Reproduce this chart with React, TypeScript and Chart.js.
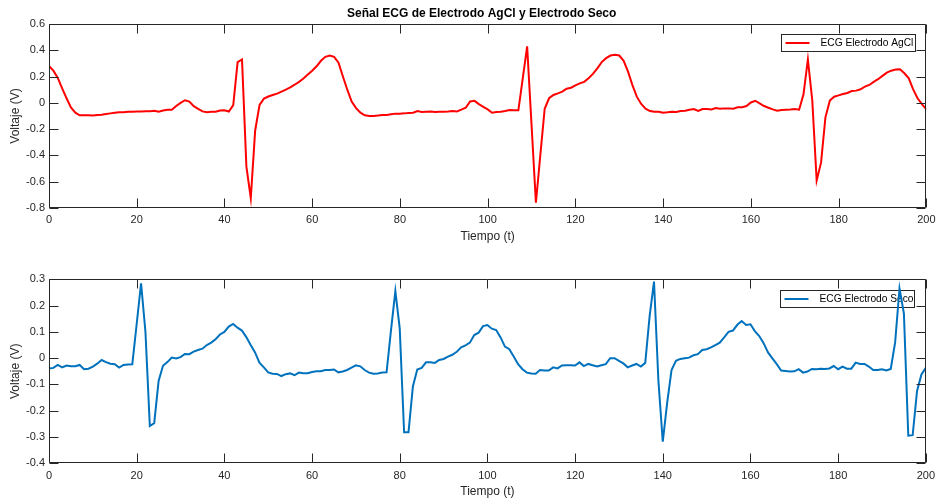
import React, { useEffect, useRef } from "react";
import { Chart, registerables } from "chart.js";

Chart.register(...registerables);

const FONT = "'Liberation Sans', Arial, Helvetica, sans-serif";
const TITLE = "Señal ECG de Electrodo AgCl y Electrodo Seco";
const X_TITLE = "Tiempo (t)";
const Y_TITLE = "Voltaje (V)";
const LABEL_AGCL = "ECG Electrodo AgCl";
const LABEL_SECO = "ECG Electrodo Seco";

const xTicks = [0, 20, 40, 60, 80, 100, 120, 140, 160, 180, 200];
const xTickLabels = ["0", "20", "40", "60", "80", "100", "120", "140", "160", "180", "200"];
const yTicksAgcl = [-0.8, -0.6, -0.4, -0.2, 0, 0.2, 0.4, 0.6];
const yTickLabelsAgcl = ["-0.8", "-0.6", "-0.4", "-0.2", "0", "0.2", "0.4", "0.6"];
const yTicksSeco = [-0.4, -0.3, -0.2, -0.1, 0, 0.1, 0.2, 0.3];
const yTickLabelsSeco = ["-0.4", "-0.3", "-0.2", "-0.1", "0", "0.1", "0.2", "0.3"];

// AgCl electrode, samples t = 0..200
const agclValues = [
  0.28, 0.245, 0.19, 0.11, 0.035, -0.035, -0.075, -0.095, -0.095, -0.095,
  -0.097, -0.093, -0.09, -0.085, -0.08, -0.075, -0.072, -0.072, -0.068, -0.068,
  -0.065, -0.065, -0.063, -0.063, -0.06, -0.068, -0.058, -0.052, -0.052, -0.024,
  0.0, 0.02, 0.01, -0.025, -0.045, -0.065, -0.072, -0.068, -0.068, -0.058,
  -0.056, -0.066, -0.017, 0.31, 0.33, -0.485, -0.725, -0.21, -0.015, 0.032,
  0.048, 0.06, 0.07, 0.085, 0.1, 0.118, 0.138, 0.16, 0.185, 0.215,
  0.245, 0.278, 0.32, 0.35, 0.36, 0.35, 0.305, 0.2, 0.1, 0.01,
  -0.04, -0.075, -0.095, -0.1, -0.1, -0.097, -0.093, -0.093, -0.087, -0.082,
  -0.082, -0.08, -0.077, -0.075, -0.062, -0.07, -0.067, -0.065, -0.07, -0.067,
  -0.067, -0.065, -0.062, -0.065, -0.052, -0.037, 0.01, 0.015, -0.01, -0.03,
  -0.05, -0.075, -0.07, -0.067, -0.062, -0.055, -0.057, -0.057, 0.187, 0.43,
  -0.165, -0.76, -0.4, -0.045, 0.035, 0.06, 0.072, 0.085, 0.108, 0.115,
  0.133, 0.148, 0.16, 0.187, 0.22, 0.263, 0.31, 0.34, 0.36, 0.365,
  0.36, 0.32, 0.237, 0.135, 0.047, -0.008, -0.044, -0.062, -0.067, -0.067,
  -0.075, -0.072, -0.067, -0.07, -0.062, -0.06, -0.052, -0.047, -0.062, -0.047,
  -0.047, -0.05, -0.04, -0.045, -0.042, -0.042, -0.045, -0.034, -0.034, -0.024,
  0.003, 0.016, -0.004, -0.024, -0.037, -0.05, -0.06, -0.055, -0.052, -0.05,
  -0.047, -0.052, 0.065, 0.33, 0.02, -0.59, -0.455, -0.11, 0.017, 0.047,
  0.057, 0.067, 0.075, 0.09, 0.093, 0.103, 0.123, 0.136, 0.16, 0.18,
  0.205, 0.23, 0.245, 0.253, 0.255, 0.225, 0.187, 0.103, 0.035, -0.01,
  -0.05,
];

// Dry electrode, samples t = 0..200
const secoValues = [
  -0.039, -0.037, -0.026, -0.035, -0.028, -0.031, -0.031, -0.026, -0.042, -0.04,
  -0.032, -0.021, -0.007, -0.015, -0.021, -0.023, -0.036, -0.026, -0.024, -0.023,
  0.13, 0.285, 0.1, -0.258, -0.247, -0.087, -0.029, -0.015, 0.002, -0.001,
  0.004, 0.016, 0.015, 0.025, 0.031, 0.036, 0.05, 0.059, 0.072, 0.09,
  0.1, 0.12, 0.13, 0.116, 0.105, 0.08, 0.05, 0.022, -0.017, -0.035,
  -0.054, -0.059, -0.06, -0.068, -0.061, -0.058, -0.065, -0.055, -0.057, -0.057,
  -0.053, -0.05, -0.05, -0.045, -0.045, -0.043, -0.054, -0.051, -0.045, -0.036,
  -0.027, -0.031, -0.045, -0.055, -0.059, -0.058, -0.055, -0.054, 0.105, 0.255,
  0.113, -0.282, -0.282, -0.108, -0.043, -0.037, -0.016, -0.016, -0.018, -0.007,
  -0.003, 0.006, 0.013, 0.024, 0.041, 0.049, 0.059, 0.088, 0.097, 0.122,
  0.126, 0.112, 0.107, 0.079, 0.044, 0.034, 0.006, -0.023, -0.042, -0.055,
  -0.058, -0.059, -0.045, -0.047, -0.047, -0.035, -0.039, -0.028, -0.027, -0.027,
  -0.028, -0.016, -0.03, -0.022, -0.027, -0.032, -0.027, -0.023, 0.0, 0.0,
  -0.01, -0.02, -0.035, -0.028, -0.022, -0.032, -0.018, 0.16, 0.291, -0.085,
  -0.318, -0.17, -0.045, -0.01, -0.003, 0.0, 0.002, 0.011, 0.015, 0.031,
  0.034, 0.041, 0.05, 0.059, 0.079, 0.1, 0.105, 0.127, 0.141, 0.126,
  0.129, 0.103, 0.084, 0.057, 0.022, -0.001, -0.023, -0.047, -0.049, -0.051,
  -0.05, -0.042, -0.055, -0.051, -0.041, -0.042, -0.04, -0.041, -0.039, -0.03,
  -0.042, -0.032, -0.04, -0.04, -0.017, -0.022, -0.022, -0.032, -0.045, -0.045,
  -0.042, -0.047, -0.041, 0.06, 0.265, 0.17, -0.295, -0.293, -0.125, -0.062,
  -0.037,
];

const AXIS_COLOR = "#262626";
const TICK_LEN = 9;

const axesPlugin = {
  id: "matlabAxes",
  afterDatasetsDraw(chart: any) {
    const { ctx, chartArea: a, scales } = chart;
    const l = Math.round(a.left) + 0.5;
    const r = Math.round(a.right) - 0.5;
    const t = Math.round(a.top) + 0.5;
    const b = Math.round(a.bottom) - 0.5;
    ctx.save();
    ctx.strokeStyle = AXIS_COLOR;
    ctx.lineWidth = 1;
    ctx.beginPath();
    ctx.rect(l, t, r - l, b - t);
    scales.x.ticks.forEach((tk: any) => {
      const px = Math.round(scales.x.getPixelForValue(tk.value)) + 0.5;
      ctx.moveTo(px, b);
      ctx.lineTo(px, b - TICK_LEN);
      ctx.moveTo(px, t);
      ctx.lineTo(px, t + TICK_LEN);
    });
    scales.y.ticks.forEach((tk: any) => {
      const py = Math.round(scales.y.getPixelForValue(tk.value)) + 0.5;
      ctx.moveTo(l, py);
      ctx.lineTo(l + TICK_LEN, py);
      ctx.moveTo(r, py);
      ctx.lineTo(r - TICK_LEN, py);
    });
    ctx.stroke();
    ctx.restore();
  },
};

const legendPlugin = {
  id: "matlabLegend",
  beforeDatasetsDraw(chart: any, _args: any, opts: any) {
    const { ctx, chartArea: a } = chart;
    const ds = chart.data.datasets[0];
    const right = Math.round(a.right - 11.5) + 0.5;
    const top = Math.round(a.top + opts.offsetTop) + 0.5;
    const w = 134;
    const h = 17;
    const left = right - w;
    ctx.save();
    ctx.fillStyle = "#ffffff";
    ctx.fillRect(left, top, w, h);
    ctx.strokeStyle = AXIS_COLOR;
    ctx.lineWidth = 1;
    ctx.strokeRect(left, top, w, h);
    const cy = top + h / 2;
    ctx.strokeStyle = ds.borderColor;
    ctx.lineWidth = 2;
    ctx.beginPath();
    ctx.moveTo(left + 4, cy);
    ctx.lineTo(left + 28, cy);
    ctx.stroke();
    ctx.fillStyle = "#000000";
    ctx.font = `10.2px ${FONT}`;
    ctx.textAlign = "left";
    ctx.textBaseline = "middle";
    ctx.fillText(ds.label, left + 39, cy + 0.5);
    ctx.restore();
  },
};

const titlePlugin = {
  id: "matlabTitle",
  afterDraw(chart: any, _args: any, opts: any) {
    if (!opts.text) return;
    const { ctx, chartArea: a } = chart;
    ctx.save();
    ctx.fillStyle = "#000000";
    ctx.font = `bold 12px ${FONT}`;
    ctx.textAlign = "center";
    ctx.textBaseline = "middle";
    ctx.fillText(opts.text, (a.left + a.right) / 2 - 6, opts.y);
    ctx.restore();
  },
};

function makeConfig(p: {
  values: number[];
  label: string;
  color: string;
  yTicks: number[];
  yTickLabels: string[];
  yMin: number;
  yMax: number;
  padTop: number;
  xAxisHeight: number;
  xTickPad: number;
  xTitlePad: number;
  title: string;
  legendTop: number;
}) {
  const points = p.values.map((v, i) => ({ x: i, y: v }));
  return {
    type: "line" as const,
    data: {
      datasets: [
        {
          label: p.label,
          data: points,
          borderColor: p.color,
          backgroundColor: p.color,
          borderWidth: 2,
          pointRadius: 0,
          tension: 0,
          fill: false,
        },
      ],
    },
    options: {
      responsive: false,
      animation: false,
      devicePixelRatio: 1,
      layout: { padding: { left: 0, right: 13, top: p.padTop, bottom: 0 } },
      plugins: {
        legend: { display: false },
        title: { display: false },
        tooltip: { enabled: false },
        matlabTitle: { text: p.title, y: 14.1 },
        matlabLegend: { offsetTop: p.legendTop },
      },
      scales: {
        x: {
          type: "linear",
          min: 0,
          max: 200,
          afterBuildTicks: (s: any) => {
            s.ticks = xTicks.map((v) => ({ value: v }));
          },
          afterFit: (s: any) => {
            s.height = p.xAxisHeight;
          },
          grid: { display: false, drawTicks: false },
          border: { display: false },
          ticks: {
            autoSkip: false,
            maxRotation: 0,
            padding: p.xTickPad,
            color: AXIS_COLOR,
            font: { family: FONT, size: 11 },
            callback: (_v: any, i: number) => xTickLabels[i],
          },
          title: {
            display: true,
            text: X_TITLE,
            color: AXIS_COLOR,
            font: { family: FONT, size: 12 },
            padding: { top: 0, bottom: p.xTitlePad },
          },
        },
        y: {
          type: "linear",
          min: p.yMin,
          max: p.yMax,
          afterBuildTicks: (s: any) => {
            s.ticks = p.yTicks.map((v) => ({ value: v }));
          },
          afterFit: (s: any) => {
            s.width = 49;
          },
          grid: { display: false, drawTicks: false },
          border: { display: false },
          ticks: {
            autoSkip: false,
            padding: 4,
            color: AXIS_COLOR,
            font: { family: FONT, size: 11 },
            callback: (_v: any, i: number) => p.yTickLabels[i],
          },
          title: {
            display: true,
            text: Y_TITLE,
            color: AXIS_COLOR,
            font: { family: FONT, size: 12 },
            padding: { top: 8, bottom: 0 },
          },
        },
      },
    },
    plugins: [legendPlugin, axesPlugin, titlePlugin],
  };
}

function EcgChart(props: { width: number; height: number; config: any }) {
  const ref = useRef<HTMLCanvasElement | null>(null);
  useEffect(() => {
    if (!ref.current) return;
    const chart = new Chart(ref.current, props.config);
    return () => chart.destroy();
  }, []);
  return (
    <canvas
      ref={ref}
      width={props.width}
      height={props.height}
      style={{ display: "block", width: props.width, height: props.height }}
    />
  );
}

export default function App() {
  const topConfig = makeConfig({
    values: agclValues,
    label: LABEL_AGCL,
    color: "#FF0000",
    yTicks: yTicksAgcl,
    yTickLabels: yTickLabelsAgcl,
    yMin: -0.8,
    yMax: 0.6,
    padTop: 24,
    xAxisHeight: 42,
    xTickPad: 5.5,
    xTitlePad: 6.5,
    title: TITLE,
    legendTop: 10,
  });
  const bottomConfig = makeConfig({
    values: secoValues,
    label: LABEL_SECO,
    color: "#0072BD",
    yTicks: yTicksSeco,
    yTickLabels: yTickLabelsSeco,
    yMin: -0.4,
    yMax: 0.3,
    padTop: 29.3,
    xAxisHeight: 39.7,
    xTickPad: 6,
    xTitlePad: 4,
    title: "",
    legendTop: 10.7,
  });
  return (
    <div
      style={{
        position: "absolute",
        left: 0,
        top: 0,
        width: 941,
        height: 503,
        background: "#ffffff",
      }}
    >
      <EcgChart width={941} height={250} config={topConfig} />
      <EcgChart width={941} height={253} config={bottomConfig} />
    </div>
  );
}
